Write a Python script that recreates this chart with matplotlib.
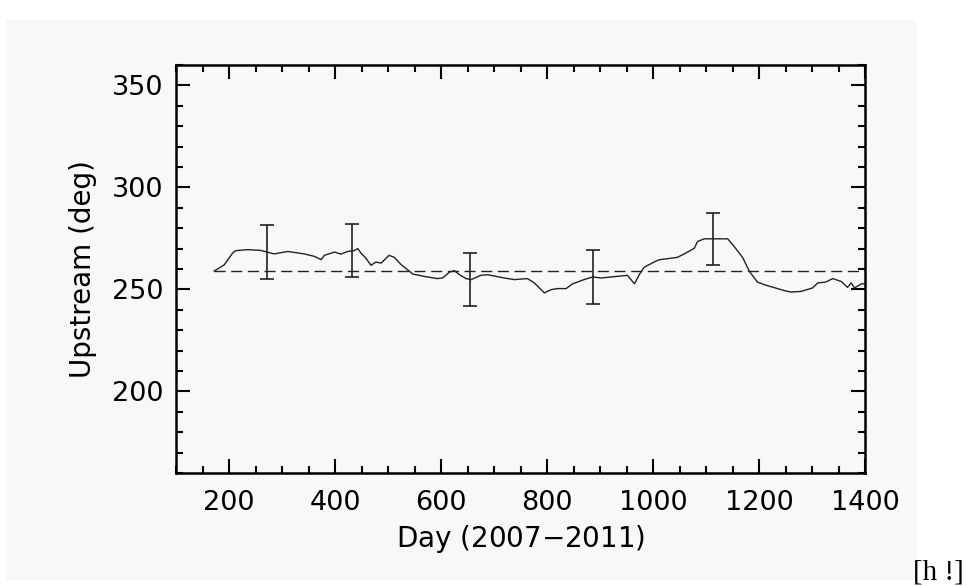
import numpy as np
import matplotlib
matplotlib.use('Agg')
import matplotlib.pyplot as plt
from matplotlib.patches import Rectangle
from matplotlib.ticker import MultipleLocator

# upstream direction curve
day = [172, 191, 207, 213, 235, 260, 285, 311, 342, 361, 374, 380, 399, 411, 424,
       436, 443, 449, 458, 468, 477, 487, 502, 512, 525, 537, 547, 568, 593, 603,
       616, 625, 635, 647, 657, 675, 688, 713, 738, 763, 776, 795, 808, 820, 836,
       848, 870, 886, 902, 952, 965, 974, 983, 1002, 1011, 1046, 1059, 1078, 1084,
       1097, 1141, 1153, 1169, 1182, 1197, 1210, 1248, 1260, 1279, 1301, 1311,
       1326, 1339, 1355, 1367, 1374, 1380, 1393, 1400]
upstream = [259, 262, 267.9, 269, 269.5, 269.1, 267.4, 268.6, 267.4, 266.2, 264.6,
            266.7, 268.3, 267.3, 268.6, 269, 270, 267.8, 265.4, 261.8, 263.4, 262.9,
            266.7, 265.7, 262.1, 259.6, 257.5, 256.4, 255.3, 255.6, 258.5, 259.2,
            257.2, 255.3, 254.8, 256.9, 257.2, 255.9, 254.8, 255.3, 253.2, 248.3,
            249.9, 250.4, 250.4, 252.7, 254.8, 256.1, 255.6, 256.9, 252.7, 257.2,
            260.8, 263.4, 264.5, 265.7, 267.4, 270.2, 273.5, 274.8, 274.8, 271.1,
            265.7, 258.8, 253.6, 252.3, 249.4, 248.7, 249, 250.7, 253.2, 253.6,
            255.3, 253.9, 251, 253.2, 250.7, 252.7, 252.8]

# mean level
mean_day = [172, 1400]
mean_val = [259, 259]

# error bars
err_day = [271, 432, 655, 886, 1113]
err_val = [268.2, 269, 255, 256, 274.6]
err_size = [13.2, 13, 13, 13.2, 12.8]

bg = '#f8f8f8'
fig = plt.figure(figsize=(9.67, 5.86), dpi=100)
fig.patch.set_facecolor('white')
fig.patches.append(Rectangle((6/967, 1-580/586), (917-6)/967, (580-20)/586,
                             transform=fig.transFigure, facecolor=bg,
                             edgecolor='none', zorder=-10))

ax = fig.add_axes([176/967, 1-473/586, (865-176)/967, (473-65)/586])
ax.set_facecolor(bg)

ax.plot(day, upstream, color='#222222', lw=1.0)
ax.plot(mean_day, mean_val, color='#222222', lw=1.0, dashes=(8, 4))
ax.errorbar(err_day, err_val, yerr=err_size, fmt='none', ecolor='#222222',
            elinewidth=1.2, capsize=5, capthick=1.2)

ax.set_xlim(100, 1400)
ax.set_ylim(160, 360)
ax.set_yticks([200, 250, 300, 350])
ax.xaxis.set_major_locator(MultipleLocator(200))
ax.xaxis.set_minor_locator(MultipleLocator(50))
ax.yaxis.set_minor_locator(MultipleLocator(10))
ax.set_xticks([200, 400, 600, 800, 1000, 1200, 1400])

ax.tick_params(which='both', direction='in', top=True, right=True,
               width=1.5, color='black')
ax.tick_params(which='major', length=10)
ax.tick_params(which='minor', length=5)
ax.tick_params(axis='x', which='major', labelsize=19.5, pad=12)
ax.tick_params(axis='y', which='major', labelsize=19.5, pad=9)
for s in ax.spines.values():
    s.set_linewidth(1.8)

ax.set_xlabel('Day (2007$-$2011)', fontsize=20, labelpad=5)
ax.set_ylabel('Upstream (deg)', fontsize=20, labelpad=11)

fig.text(964/967, 1-579/586, '[h !]', family='Liberation Serif', fontsize=21,
         ha='right', va='baseline')

fig.savefig('out.png', dpi=100, facecolor='white')
